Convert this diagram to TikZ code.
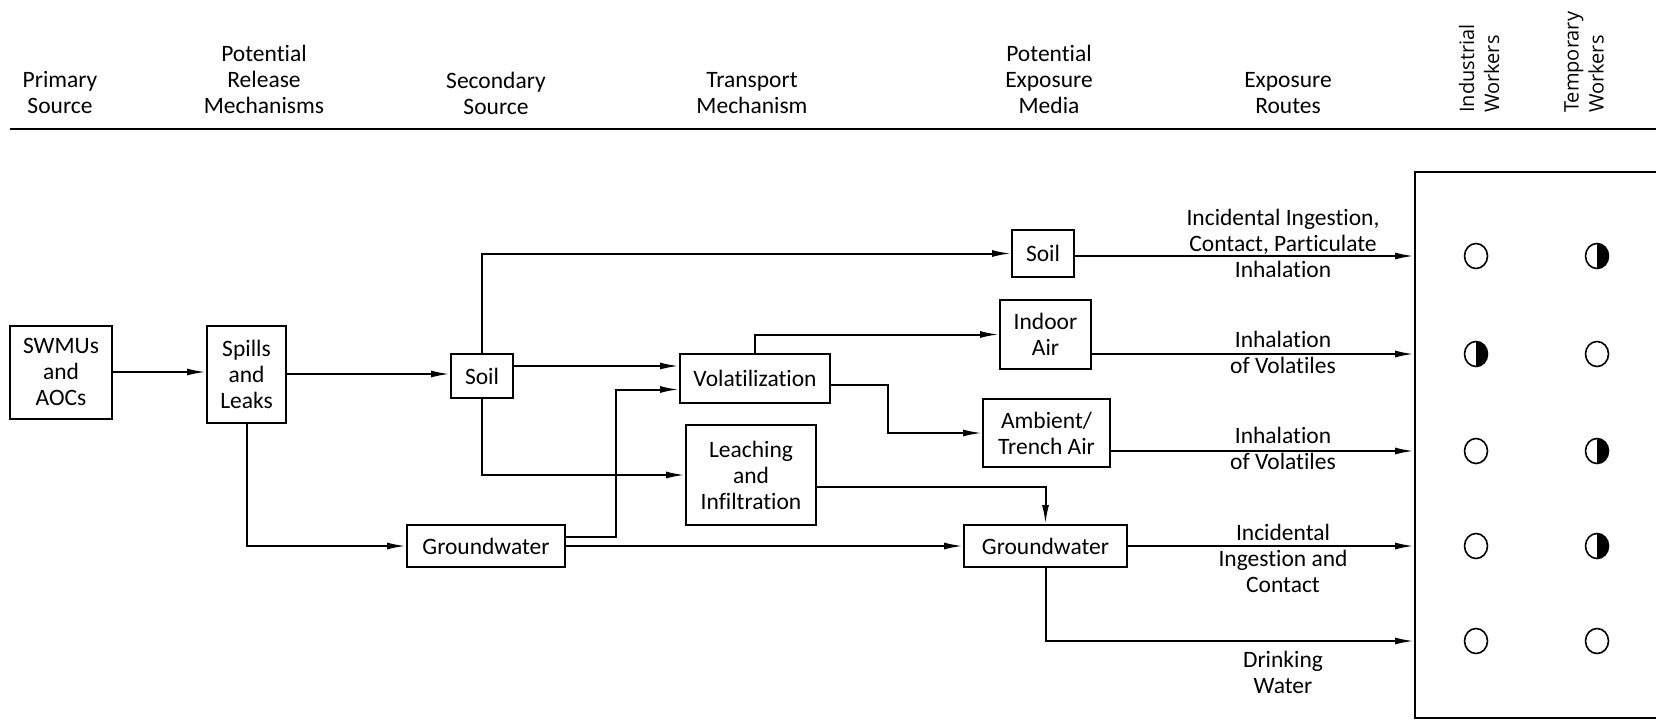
\documentclass[tikz,border=0pt]{standalone}
\usepackage{fontspec}
\setmainfont{Carlito}[Ligatures={NoCommon}]
\newfontfamily\hdrfont{Open Sans}
\usetikzlibrary{arrows.meta,shapes.geometric,calc}
\begin{document}
\begin{tikzpicture}[x=1pt,y=-1pt,
  every node/.style={font=\fontsize{23.5}{26}\selectfont, align=center, inner sep=0pt},
  box/.style={draw, line width=2pt, rectangle},
  arr/.style={line width=2pt, -{Latex[length=19pt,width=7pt]}},
  wk/.style={font=\hdrfont\fontsize{20}{25}\selectfont, rotate=90, anchor=west, align=left},
  rc/.style={ellipse, draw, line width=1.6pt, minimum width=23pt, minimum height=25pt},
  half/.style={rc, path picture={\fill (path picture bounding box.north) rectangle (path picture bounding box.south east);}}
]
\useasboundingbox (0,0) rectangle (1656,720);

% header
\node (h1) at (60,93) {Primary\\Source};
\node (h2) at (264,79) {Potential\\Release\\Mechanisms};
\node (h3) at (496,93) {Secondary\\Source};
\node (h4) at (752,93) {Transport\\Mechanism};
\node (h5) at (1049,79) {Potential\\Exposure\\Media};
\node (h6) at (1288,93) {Exposure\\Routes};
\node[wk] (h7) at (1479,113) {Industrial\\Workers};
\node[wk] (h8) at (1584,113) {Temporary\\Workers};
\draw[line width=2.2pt] (10,129) -- (1656,129);

% receptor box
\node[draw, line width=2pt, minimum width=285pt, minimum height=546pt] (rbox) at (1557.5,445) {};

% boxes
\node[box, minimum width=102pt, minimum height=93pt] (swmu) at (61,372) {SWMUs\\and\\AOCs};
\node[box, minimum width=79pt, minimum height=97pt] (spills) at (246.5,374) {Spills\\and\\Leaks};
\node[box, minimum width=62pt, minimum height=44pt] (soil2) at (482,376) {Soil};
\node[box, minimum width=158pt, minimum height=42pt] (gw2) at (486,546) {Groundwater};
\node[box, minimum width=150pt, minimum height=49pt] (volat) at (755,378.5) {Volatilization};
\node[box, minimum width=130pt, minimum height=100pt] (leach) at (751,475) {Leaching\\and\\Infiltration};
\node[box, minimum width=62pt, minimum height=47pt] (soilE) at (1043,253.5) {Soil};
\node[box, minimum width=91pt, minimum height=69pt] (indoor) at (1045.5,334.5) {Indoor\\Air};
\node[box, minimum width=127pt, minimum height=68pt] (ambient) at (1046.5,433) {Ambient/\\Trench Air};
\node[box, minimum width=163pt, minimum height=42pt] (gwE) at (1045.5,546) {Groundwater};

% receptor circles
\node[rc]   (r1i) at (1476,256) {};
\node[half] (r1t) at (1597,256) {};
\node[half] (r2i) at (1476,354) {};
\node[rc]   (r2t) at (1597,354) {};
\node[rc]   (r3i) at (1476,451) {};
\node[half] (r3t) at (1597,451) {};
\node[rc]   (r4i) at (1476,546) {};
\node[half] (r4t) at (1597,546) {};
\node[rc]   (r5i) at (1476,641) {};
\node[rc]   (r5t) at (1597,641) {};

% route labels
\node (l1) at (1283,243) {Incidental Ingestion,\\Contact, Particulate\\Inhalation};
\node (l2) at (1283,352) {Inhalation\\of Volatiles};
\node (l3) at (1283,448) {Inhalation\\of Volatiles};
\node (l4) at (1283,558.6) {Incidental\\Ingestion and\\Contact};
\node (l5) at (1283,672) {Drinking\\Water};

% connectors
\draw[arr] (swmu.east) -- (swmu.east -| spills.west);
\draw[arr] (spills.east) -- (spills.east -| soil2.west);
\draw[arr] (spills.south) |- (gw2.west);
\draw[arr] (soil2.north) |- (soilE.west);
\draw[arr] ([yshift=10pt]soil2.east) -- ([yshift=10pt]soil2.east -| volat.west);
\draw[arr] (soil2.south) |- (leach.west);
\draw[arr] ([yshift=9.5pt]gw2.east) -- ++(50,0) |- ([yshift=-11pt]volat.west);
\draw[arr] (gw2.east) -- (gwE.west);
\draw[arr] (volat.north) |- (indoor.west);
\draw[arr] ([yshift=-6pt]volat.east) -- ++(57,0) |- (ambient.west);
\draw[arr] ([yshift=-12pt]leach.east) -| (gwE.north);
\draw[arr] (soilE.east |- r1i) -- (r1i -| rbox.west);
\draw[arr] (indoor.east |- r2i) -- (r2i -| rbox.west);
\draw[arr] (ambient.east |- r3i) -- (r3i -| rbox.west);
\draw[arr] (gwE.east |- r4i) -- (r4i -| rbox.west);
\draw[arr] (gwE.south) |- (r5i -| rbox.west);
\end{tikzpicture}
\end{document}
